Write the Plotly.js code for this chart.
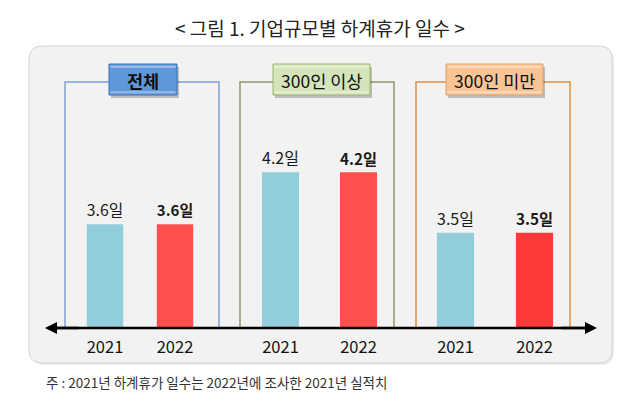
<!DOCTYPE html>
<html><head><meta charset="utf-8">
<script src="https://cdn.plot.ly/plotly-3.0.1.min.js"></script>
<style>html,body{margin:0;padding:0;background:#fff}#chart{width:640px;height:401px}</style>
</head><body><div id="chart"></div>
<script>
// ---- data ----
const groups = ["전체", "300인 이상", "300인 미만"];
const years = ["2021", "2022"];
const days2021 = [3.6, 4.2, 3.5];
const days2022 = [3.6, 4.2, 3.5];
const unit = "일";
const title = "< 그림 1. 기업규모별 하계휴가 일수 >";
const note = "주 : 2021년 하계휴가 일수는 2022년에 조사한 2021년 실적치";

// ---- helpers (pixel -> paper) ----
const W = 640, H = 401;
const X = p => p / W;
const Y = p => 1 - p / H;
const FONT = "Noto Sans CJK KR, Noto Sans, sans-serif";

const col2021 = "#92CDDC";
const col2022 = ["#FF5050", "#FF5050", "#FF3A3A"];
const domains = [[70, 210], [241.5, 397.5], [416, 574]];
const barW = [0.52, 0.475, 0.47];
const frames = [
  {l: 65, r: 219, c: "#7F9FD6", box: [109, 177], fill: "#5E98DA", bl: "#3C6FB4", bold: true},
  {l: 240, r: 394, c: "#8C9C68", box: [273, 370], fill: "#D6E4BB", bl: "#9DB468", bold: false},
  {l: 416, r: 570, c: "#E28D40", box: [446, 543], fill: "#F9C495", bl: "#E3A066", bold: false}
];
const frameTop = 82, baseY = 328, boxTop = 64, boxBot = 95;

const traces = groups.map((g, i) => ({
  type: "bar",
  x: years,
  y: [days2021[i], days2022[i]],
  xaxis: i === 0 ? "x" : "x" + (i + 1),
  yaxis: "y",
  width: barW[i],
  marker: {color: [col2021, col2022[i]], line: {width: 0}},
  text: [days2021[i] + unit, "<b>" + days2022[i] + unit + "</b>"],
  textposition: "outside",
  textfont: {family: FONT, size: 16, color: "#1a1a1a"},
  cliponaxis: false,
  hoverinfo: "none",
  name: g,
  showlegend: false
}));

const shapes = [];
const annotations = [];
// background rounded box
(function () {
  const l = 29, r = 612, t = 46, b = 363, rad = 13;
  const path = (dx, dy) => {
    const L = l + dx, R = r + dx, T = t + dy, B = b + dy;
    return `M ${X(L + rad)} ${Y(T)} L ${X(R - rad)} ${Y(T)} Q ${X(R)} ${Y(T)} ${X(R)} ${Y(T + rad)} ` +
      `L ${X(R)} ${Y(B - rad)} Q ${X(R)} ${Y(B)} ${X(R - rad)} ${Y(B)} L ${X(L + rad)} ${Y(B)} ` +
      `Q ${X(L)} ${Y(B)} ${X(L)} ${Y(B - rad)} L ${X(L)} ${Y(T + rad)} Q ${X(L)} ${Y(T)} ${X(L + rad)} ${Y(T)} Z`;
  };
  shapes.push({type: "path", xref: "paper", yref: "paper", layer: "below", path: path(2, 2),
    fillcolor: "rgba(0,0,0,0.08)", line: {width: 0}});
  shapes.push({type: "path", xref: "paper", yref: "paper", layer: "below", path: path(0, 0),
    fillcolor: "#F2F2F2", line: {color: "#D4D4D4", width: 1}});
})();
// frames and label boxes
frames.forEach((f, i) => {
  shapes.push({type: "path", xref: "paper", yref: "paper", layer: "below",
    path: `M ${X(f.l)} ${Y(baseY)} L ${X(f.l)} ${Y(frameTop)} L ${X(f.r)} ${Y(frameTop)} L ${X(f.r)} ${Y(baseY)}`,
    line: {color: f.c, width: 1.5}});
  shapes.push({type: "rect", xref: "paper", yref: "paper", layer: "above",
    x0: X(f.box[0] + 2), x1: X(f.box[1] + 2), y0: Y(boxBot + 3), y1: Y(boxTop + 3),
    fillcolor: "rgba(0,0,0,0.22)", line: {width: 0}});
  shapes.push({type: "rect", xref: "paper", yref: "paper", layer: "above",
    x0: X(f.box[0]), x1: X(f.box[1]), y0: Y(boxBot), y1: Y(boxTop),
    fillcolor: f.fill, line: {color: f.bl, width: 1}});
  shapes.push({type: "rect", xref: "paper", yref: "paper", layer: "above",
    x0: X(f.box[0] + 1.5), x1: X(f.box[1] - 1.5), y0: Y(boxTop + 4), y1: Y(boxTop + 1.5),
    fillcolor: "rgba(255,255,255,0.35)", line: {width: 0}});
  shapes.push({type: "rect", xref: "paper", yref: "paper", layer: "above",
    x0: X(f.box[0] + 1.5), x1: X(f.box[1] - 1.5), y0: Y(boxBot - 1.5), y1: Y(boxBot - 4),
    fillcolor: "rgba(255,255,255,0.3)", line: {width: 0}});
  annotations.push({xref: "paper", yref: "paper", x: X((f.box[0] + f.box[1]) / 2), y: Y((boxTop + boxBot) / 2 + 0.5),
    xanchor: "center", yanchor: "middle", showarrow: false,
    text: f.bold ? "<b>" + groups[i] + "</b>" : groups[i],
    font: {family: FONT, size: 17.5, color: "#111"}});
});
// double arrow axis: shaft plus two heads
shapes.push({type: "line", xref: "paper", yref: "paper", layer: "above",
  x0: X(52), x1: X(590), y0: Y(baseY), y1: Y(baseY), line: {color: "#000", width: 2.4}});
[45, 597].forEach(xe => {
  annotations.push({xref: "paper", yref: "paper", axref: "paper", ayref: "paper",
    x: X(xe), y: Y(baseY), ax: X(xe < 320 ? 80 : 560), ay: Y(baseY), text: "", showarrow: true,
    arrowhead: 2, arrowsize: 1, arrowwidth: 2.4, arrowcolor: "#000", standoff: 0, startstandoff: 0});
});
// title & note
annotations.push({xref: "paper", yref: "paper", x: X(320), y: Y(28), xanchor: "center", yanchor: "middle",
  showarrow: false, text: title, font: {family: FONT, size: 19, color: "#222"}});
annotations.push({xref: "paper", yref: "paper", x: X(44), y: Y(382), xanchor: "left", yanchor: "middle",
  showarrow: false, text: note, font: {family: FONT, size: 13.5, color: "#333"}});

const xaxisBase = d => ({
  domain: [X(d[0]), X(d[1])], anchor: "y", type: "category", range: [-0.5, 1.5],
  showgrid: false, zeroline: false, showline: false, ticks: "",
  tickfont: {family: FONT, size: 16.5, color: "#111"}, ticklabelstandoff: 8, fixedrange: true
});

const layout = {
  width: W, height: H,
  margin: {l: 0, r: 0, t: 0, b: 0},
  paper_bgcolor: "#ffffff",
  plot_bgcolor: "rgba(0,0,0,0)",
  showlegend: false,
  xaxis: xaxisBase(domains[0]),
  xaxis2: xaxisBase(domains[1]),
  xaxis3: xaxisBase(domains[2]),
  yaxis: {domain: [Y(327), Y(47)], range: [2.41, 5.65], visible: false, fixedrange: true},
  shapes: shapes,
  annotations: annotations
};

Plotly.newPlot("chart", traces, layout, {displayModeBar: false, staticPlot: true});
</script></body></html>
